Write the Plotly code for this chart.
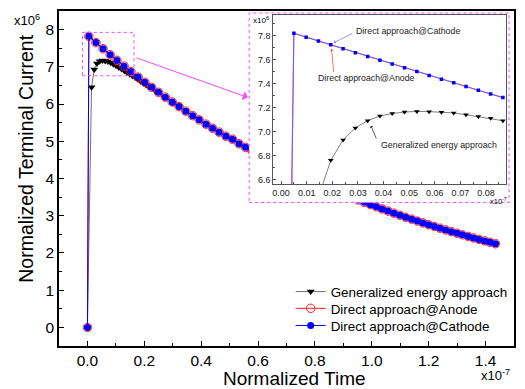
import plotly.graph_objects as go

# ---------------- data (time in 1e-7 units, current in 1e6 units) ----------------
main_time = [0, 0.005, 0.030, 0.055, 0.080, 0.104, 0.129, 0.153, 0.178, 0.202, 0.226,
             0.250, 0.274, 0.298, 0.322, 0.346, 0.370, 0.393, 0.417, 0.440, 0.463,
             0.487, 0.510, 0.533, 0.556, 0.578, 0.601, 0.624, 0.646, 0.669, 0.691,
             0.713, 0.736, 0.758, 0.780, 0.802, 0.823, 0.845, 0.867, 0.888, 0.910,
             0.931, 0.952, 0.974, 0.995, 1.016, 1.036, 1.057, 1.078, 1.099, 1.119,
             1.140, 1.160, 1.180, 1.200, 1.220, 1.240, 1.260, 1.280, 1.300, 1.319,
             1.339, 1.358, 1.377, 1.397, 1.416, 1.435]
cathode_current = [0, 7.820, 7.651, 7.486, 7.325, 7.173, 7.019, 6.873, 6.725, 6.586, 6.449,
                   6.316, 6.185, 6.057, 5.931, 5.809, 5.688, 5.575, 5.460, 5.351, 5.245,
                   5.136, 5.056, 4.935, 4.837, 4.745, 4.650, 4.558, 4.472, 4.383, 4.300,
                   4.218, 4.134, 4.055, 3.978, 3.903, 3.832, 3.759, 3.688, 3.621, 3.552,
                   3.488, 3.424, 3.359, 3.298, 3.239, 3.183, 3.125, 3.068, 3.012, 2.960,
                   2.907, 2.856, 2.807, 2.758, 2.711, 2.664, 2.618, 2.572, 2.528, 2.486,
                   2.443, 2.403, 2.364, 2.323, 2.285, 2.247]
anode_current = list(cathode_current)  # the two direct approaches coincide

gen_time = [0, 0.0144, 0.024, 0.0336, 0.0432, 0.0528, 0.0624, 0.072, 0.0816, 0.0912,
            0.1008, 0.1104, 0.12, 0.1296, 0.1392, 0.1488, 0.1584, 0.168, 0.1776, 0.1872,
            0.1968, 0.2064, 0.216, 0.24, 0.27, 0.30, 0.322, 0.417, 0.510, 0.601,
            0.691, 0.780, 0.867, 0.952, 1.036, 1.119, 1.200, 1.280, 1.358, 1.435]
gen_current = [0, 6.45, 6.93, 7.09, 7.15, 7.168, 7.16, 7.14, 7.11, 7.070,
               7.028, 6.985, 6.941, 6.895, 6.848, 6.801, 6.754, 6.706, 6.657, 6.608,
               6.559, 6.510, 6.460, 6.336, 6.182, 6.028, 5.917, 5.455, 5.056, 4.650,
               4.300, 3.978, 3.688, 3.424, 3.183, 2.960, 2.758, 2.572, 2.403, 2.247]

inset_time = [0, 0.0050, 0.0098, 0.0146, 0.0194, 0.0242, 0.0290, 0.0338, 0.0386, 0.0434,
              0.0482, 0.0530, 0.0578, 0.0626, 0.0674, 0.0722, 0.0770, 0.0818, 0.0866]
inset_cathode = [0, 7.820, 7.787, 7.755, 7.723, 7.690, 7.658, 7.626, 7.594, 7.563,
                 7.531, 7.500, 7.468, 7.437, 7.406, 7.375, 7.344, 7.314, 7.283]
inset_anode = list(inset_cathode)
inset_gen = [0, 4.20, 5.85, 6.45, 6.76, 6.93, 7.03, 7.09, 7.13, 7.15,
             7.163, 7.168, 7.166, 7.16, 7.155, 7.14, 7.125, 7.11, 7.09]

x_ticks = [0.0, 0.2, 0.4, 0.6, 0.8, 1.0, 1.2, 1.4]
y_ticks = [0, 1, 2, 3, 4, 5, 6, 7, 8]
inset_x_ticks = [0.00, 0.01, 0.02, 0.03, 0.04, 0.05, 0.06, 0.07, 0.08]
inset_y_ticks = [6.6, 6.8, 7.0, 7.2, 7.4, 7.6, 7.8]

names = ["Generalized energy approach", "Direct approach@Anode", "Direct approach@Cathode"]

# ---------------- layout geometry ----------------
FONT = "Liberation Sans, Arial, sans-serif"
W, H = 525, 389
ML, MR, MT, MB = 59, 9, 10, 43
PW, PH = W - ML - MR, H - MT - MB


def px(x):
    return (x - ML) / PW


def py(y):
    return (H - MB - y) / PH


panel_dom_x = [px(250), px(511)]
panel_dom_y = [py(202), py(12)]
inset_dom_x = [px(274.3), px(507.7)]
inset_dom_y = [py(183.7), py(14)]

fig = go.Figure()

# main traces
fig.add_trace(go.Scatter(x=gen_time, y=gen_current, name=names[0], mode="lines+markers",
                         line=dict(color="#707070", width=1), legend="legend",
                         marker=dict(symbol="triangle-down", size=7, color="black")))
fig.add_trace(go.Scatter(x=main_time, y=anode_current, name=names[1], mode="lines+markers",
                         line=dict(color="#ff2020", width=1), legend="legend2",
                         marker=dict(symbol="circle-open", size=8.5, color="#ff2020",
                                     line=dict(width=1, color="#ff2020"))))
fig.add_trace(go.Scatter(x=main_time, y=cathode_current, name=names[2], mode="lines+markers",
                         line=dict(color="#0000ff", width=1), legend="legend3",
                         marker=dict(symbol="circle", size=7, color="#0000ff")))

# white panel behind the inset (covers the main curves)
fig.add_trace(go.Scatter(x=[0, 1, 1, 0, 0], y=[0, 0, 1, 1, 0], fill="toself",
                         fillcolor="white", mode="none", xaxis="x2", yaxis="y2",
                         showlegend=False, hoverinfo="skip"))

# inset traces
fig.add_trace(go.Scatter(x=inset_time, y=inset_gen, mode="lines+markers", xaxis="x3", yaxis="y3",
                         line=dict(color="#808080", width=1),
                         marker=dict(symbol="triangle-down", size=5, color="black"),
                         showlegend=False))
fig.add_trace(go.Scatter(x=inset_time, y=inset_anode, mode="lines", xaxis="x3", yaxis="y3",
                         line=dict(color="rgba(255,90,90,0.8)", width=1.2), showlegend=False))
fig.add_trace(go.Scatter(x=inset_time, y=inset_cathode, mode="lines+markers", xaxis="x3", yaxis="y3",
                         line=dict(color="#6a5aff", width=1),
                         marker=dict(symbol="square", size=3.5, color="#0000ff"),
                         showlegend=False))

axis_common = dict(showgrid=False, zeroline=False, showline=True, mirror=True, ticks="inside")


def leg(ypix):
    return dict(x=px(291.7), y=py(ypix), xanchor="left", yanchor="middle",
                bgcolor="rgba(0,0,0,0)", borderwidth=0,
                font=dict(size=13.4, family=FONT, color="black"),
                tracegroupgap=0, itemwidth=30)


fig.update_layout(
    width=W, height=H,
    margin=dict(l=ML, r=MR, t=MT, b=MB),
    paper_bgcolor="white", plot_bgcolor="white",
    font=dict(family=FONT, color="black"),
    showlegend=True,
    legend=leg(291.7), legend2=leg(308.5), legend3=leg(325.7),
    xaxis=dict(domain=[0, 1], range=[-0.1, 1.5], tickvals=x_ticks,
               ticktext=["%.1f" % v for v in x_ticks], ticklen=5, tickwidth=1.2,
               linewidth=1.5, linecolor="black", tickcolor="black",
               tickfont=dict(size=15.5, color="black"),
               minor=dict(ticks="inside", ticklen=3, dtick=0.1, tick0=0, tickwidth=1.2,
                          tickcolor="black"),
               anchor="y", **axis_common),
    yaxis=dict(domain=[0, 1], range=[-0.5, 8.5], tickvals=y_ticks,
               ticktext=[str(v) for v in y_ticks], ticklen=5, tickwidth=1.2,
               linewidth=1.5, linecolor="black", tickcolor="black",
               tickfont=dict(size=15.5, color="black"),
               minor=dict(ticks="inside", ticklen=3, dtick=0.5, tick0=0, tickwidth=1.2,
                          tickcolor="black"),
               anchor="x", **axis_common),
    xaxis2=dict(domain=panel_dom_x, range=[0, 1], anchor="y2", visible=False),
    yaxis2=dict(domain=panel_dom_y, range=[0, 1], anchor="x2", visible=False),
    xaxis3=dict(domain=inset_dom_x, range=[-0.003, 0.0877], tickvals=inset_x_ticks,
                ticktext=["%.2f" % v for v in inset_x_ticks], ticklen=3, tickwidth=1,
                linewidth=1, linecolor="#555555", tickfont=dict(size=9, color="#222222"),
                minor=dict(ticks="inside", ticklen=2, dtick=0.005, tick0=0, tickcolor="#555555"),
                tickcolor="#555555", anchor="y3", **axis_common),
    yaxis3=dict(domain=inset_dom_y, range=[6.561, 7.972], tickvals=inset_y_ticks,
                ticktext=["%.1f" % v for v in inset_y_ticks], ticklen=3, tickwidth=1,
                linewidth=1, linecolor="#555555", tickfont=dict(size=9, color="#222222"),
                minor=dict(ticks="inside", ticklen=2, dtick=0.1, tick0=0, tickcolor="#555555"),
                tickcolor="#555555", anchor="x3", **axis_common),
)

MAG = "#ff44ff"
# zoom-region box in the main plot and frame around the inset
fig.add_shape(type="rect", xref="x", yref="y", x0=-0.0175, x1=0.1635, y0=6.76, y1=7.925,
              line=dict(color=MAG, width=1, dash="dot"), layer="above")
fig.add_shape(type="rect", xref="paper", yref="paper", x0=panel_dom_x[0], x1=panel_dom_x[1],
              y0=panel_dom_y[0], y1=panel_dom_y[1],
              line=dict(color=MAG, width=1, dash="dot"), layer="above")

ann = []
# magnifier arrow
ann.append(dict(xref="x", yref="y", axref="x", ayref="y", x=0.5637, y=6.18, ax=0.1674, ay=7.255,
                text="", showarrow=True, arrowcolor=MAG, arrowwidth=1, arrowhead=1, arrowsize=1.6))
# titles
ann.append(dict(xref="paper", yref="paper", x=px(296), y=py(379), text="Normalized Time",
                showarrow=False, font=dict(size=19), xanchor="center", yanchor="middle"))
ann.append(dict(xref="paper", yref="paper", x=px(25), y=py(158), text="Normalized Terminal Current",
                showarrow=False, font=dict(size=19.5), textangle=-90,
                xanchor="center", yanchor="middle"))
# exponent labels
ann.append(dict(xref="paper", yref="paper", x=px(12), y=py(19), text="x10<sup>6</sup>",
                showarrow=False, font=dict(size=13), xanchor="left", yanchor="middle"))
ann.append(dict(xref="paper", yref="paper", x=px(514), y=py(375), text="x10<sup>-7</sup>",
                showarrow=False, font=dict(size=13), xanchor="right", yanchor="middle"))
ann.append(dict(xref="paper", yref="paper", x=px(252), y=py(19), text="x10<sup>6</sup>",
                showarrow=False, font=dict(size=8), xanchor="left", yanchor="middle"))
ann.append(dict(xref="paper", yref="paper", x=px(511), y=py(200.5), text="x10<sup>-7</sup>",
                showarrow=False, font=dict(size=7.5), xanchor="right", yanchor="middle"))
# inset labels with pointers
IF = dict(size=8.8, color="#222222")
ann.append(dict(xref="x3", yref="y3", x=0.0284, y=7.839, text=names[2], showarrow=False,
                font=IF, xanchor="left", yanchor="middle"))
ann.append(dict(xref="x3", yref="y3", x=0.0136, y=7.448, text=names[1], showarrow=False,
                font=IF, xanchor="left", yanchor="middle"))
ann.append(dict(xref="x3", yref="y3", x=0.0381, y=6.888, text=names[0], showarrow=False,
                font=IF, xanchor="left", yanchor="middle"))
ann.append(dict(xref="x3", yref="y3", axref="x3", ayref="y3", x=0.0206, y=7.741, ax=0.0284, ay=7.824,
                text="", showarrow=True, arrowcolor="#8080ff", arrowwidth=0.8, arrowhead=1, arrowsize=0.8))
ann.append(dict(xref="x3", yref="y3", axref="x3", ayref="y3", x=0.0197, y=7.69, ax=0.0206, ay=7.484,
                text="", showarrow=True, arrowcolor="#ff5050", arrowwidth=0.8, arrowhead=1, arrowsize=0.8))
ann.append(dict(xref="x3", yref="y3", axref="x3", ayref="y3", x=0.0351, y=7.049, ax=0.0374, ay=6.930,
                text="", showarrow=True, arrowcolor="#333333", arrowwidth=0.8, arrowhead=1, arrowsize=0.8))
fig.update_layout(annotations=ann)

fig.write_html("out.html", config={"displayModeBar": False},
               post_script="document.body.style.margin='0';document.body.style.padding='0';"
                           "document.body.style.overflow='hidden';")
